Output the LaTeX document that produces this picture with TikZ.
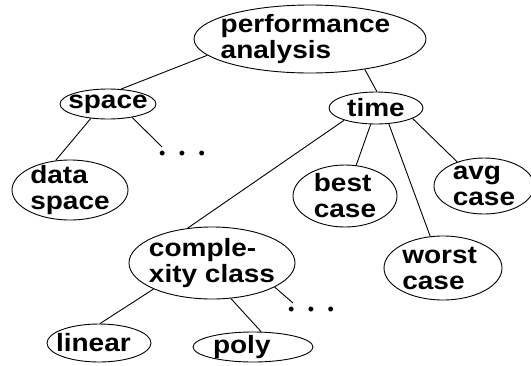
\documentclass[tikz,border=0pt]{standalone}
\usepackage{fontspec}
\setmainfont{Liberation Sans}
\usetikzlibrary{shapes.geometric}
\tikzset{
  el/.style={draw, ellipse, line width=0.9pt, inner sep=0pt},
  txt/.style={align=left, inner sep=0pt, xscale=1.12, transform shape, font=\bfseries\fontsize{25pt}{26pt}\selectfont},
  edge/.style={draw, line width=0.9pt},
  dotsnode/.style={inner sep=0pt, font=\fontsize{18pt}{18pt}\selectfont}
}
\begin{document}
\begin{tikzpicture}[x=1pt, y=-1pt]
\useasboundingbox (0,0) rectangle (531,365);
\clip (0,0) rectangle (531,365);
\node[el, minimum width=232pt, minimum height=68pt, label={[txt, xshift=-4pt]center:performance\\analysis}] (perf) at (310,39) {};
\node[el, minimum width=96pt, minimum height=30pt, label={[txt]center:space}] (space) at (108,104) {};
\node[el, minimum width=94pt, minimum height=32pt, label={[txt]center:time}] (time) at (376,108) {};
\node[el, minimum width=116pt, minimum height=60pt, label={[txt]center:data\\space}] (data) at (70,190) {};
\node[el, minimum width=104pt, minimum height=62pt, label={[txt]center:best\\case}] (best) at (345,196) {};
\node[el, minimum width=100pt, minimum height=56pt, label={[txt]center:avg\\case}] (avg) at (484,186) {};
\node[el, minimum width=118pt, minimum height=64pt, label={[txt, xshift=-3pt]center:worst\\case}] (worst) at (443,268) {};
\node[el, minimum width=166pt, minimum height=72pt, label={[txt]center:comple-\\xity class}] (cx) at (212,263) {};
\node[el, minimum width=104pt, minimum height=38pt, label={[txt, xshift=-5pt]center:linear}] (linear) at (99,343) {};
\node[el, minimum width=120pt, minimum height=30pt, label={[txt, xshift=-10pt]center:poly}] (poly) at (253,347) {};
\node[dotsnode] (dotsA) at (182,155) {•\hspace{13.5pt}•\hspace{13.5pt}•};
\node[dotsnode] (dotsB) at (311,311) {•\hspace{13.5pt}•\hspace{13.5pt}•};
\coordinate (endA) at (162,147);
\coordinate (endB) at (293,303);
\draw[edge] (perf.189) -- (space.49);
\draw[edge] (perf.331) -- (time.87);
\draw[edge] (space.220) -- (data.116);
\draw[edge] (space.331) -- (endA);
\draw[edge] (time.201) -- (cx.125);
\draw[edge] (time.252) -- (best.70);
\draw[edge] (time.309) -- (worst.112);
\draw[edge] (time.344) -- (avg.138);
\draw[edge] (cx.204) -- (linear.87);
\draw[edge] (cx.298) -- (poly.62);
\draw[edge] (cx.339) -- (endB);
\end{tikzpicture}
\end{document}
